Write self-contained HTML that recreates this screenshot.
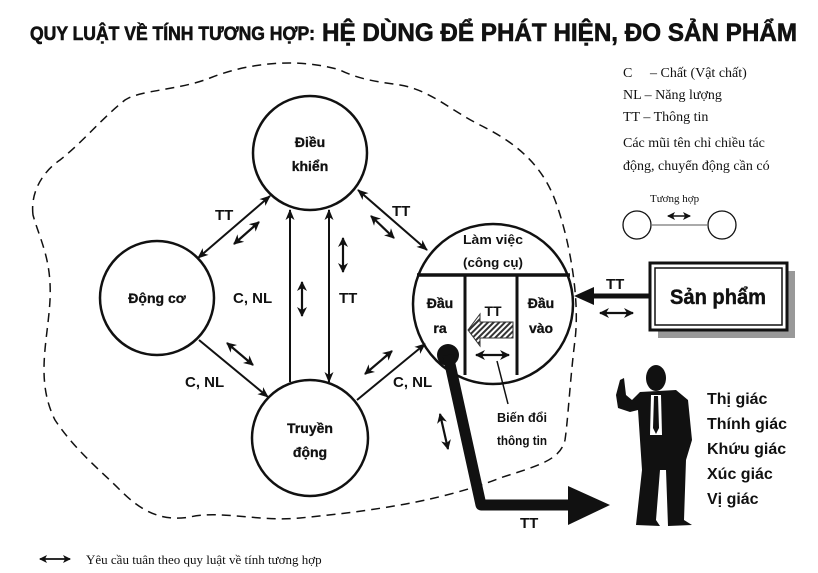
<!DOCTYPE html>
<html><head><meta charset="utf-8"><style>
html,body{margin:0;padding:0;background:#fff;}
svg{display:block;}
.b{font-family:"Liberation Sans",sans-serif;font-weight:bold;fill:#111;}
.s{font-family:"Liberation Serif",serif;fill:#111;}
</style></head><body>
<svg width="818" height="573" viewBox="0 0 818 573" xmlns="http://www.w3.org/2000/svg">
<defs>
<marker id="ah" markerWidth="11" markerHeight="11" refX="10" refY="5.5" orient="auto-start-reverse" markerUnits="userSpaceOnUse"><path d="M0,1 L11,5.5 L0,10 L3,5.5 Z" fill="#111"/></marker>
<marker id="sh" markerWidth="10" markerHeight="10" refX="9" refY="5" orient="auto-start-reverse" markerUnits="userSpaceOnUse"><path d="M0,0 L10,5 L0,10 L3,5 Z" fill="#111"/></marker>
<marker id="lh" markerWidth="8" markerHeight="8" refX="7" refY="4" orient="auto-start-reverse" markerUnits="userSpaceOnUse"><path d="M0,0 L8,4 L0,8 L2,4 Z" fill="#111"/></marker>
<pattern id="hat" width="4" height="4" patternUnits="userSpaceOnUse" patternTransform="rotate(45)"><rect width="4" height="4" fill="#fff"/><rect width="2" height="4" fill="#333"/></pattern>
</defs>

<!-- title -->
<text x="30" y="40" class="b" font-size="19" textLength="285" lengthAdjust="spacingAndGlyphs" stroke="#111" stroke-width="0.6">QUY LUẬT VỀ TÍNH TƯƠNG HỢP:</text>
<text x="322" y="41" class="b" font-size="25" textLength="475" lengthAdjust="spacingAndGlyphs" stroke="#111" stroke-width="0.6">HỆ DÙNG ĐỂ PHÁT HIỆN, ĐO SẢN PHẨM</text>

<!-- dashed blob -->
<path d="M33,215 C30,190 45,170 60,160 C85,140 100,120 125,100 C140,90 180,90 210,78 C250,62 300,58 340,70 C360,80 380,82 400,85 C430,90 450,110 480,125 C510,140 540,160 555,200 C570,240 580,300 575,340 C570,380 568,420 565,440 C560,460 540,465 500,478 C470,490 430,500 400,505 C360,512 330,515 300,518 C260,522 220,510 190,517 C160,522 140,510 120,490 C100,470 75,450 55,420 C35,380 48,340 50,300 C52,260 40,240 33,215 Z" fill="none" stroke="#111" stroke-width="1.5" stroke-dasharray="9,6"/>

<!-- circles -->
<circle cx="310" cy="153" r="57" fill="#fff" stroke="#111" stroke-width="2.5"/>
<circle cx="157" cy="298" r="57" fill="#fff" stroke="#111" stroke-width="2.5"/>
<circle cx="310" cy="438" r="58" fill="#fff" stroke="#111" stroke-width="2.5"/>
<circle cx="493" cy="304" r="80" fill="#fff" stroke="#111" stroke-width="2.5"/>
<line x1="417" y1="275" x2="570" y2="275" stroke="#111" stroke-width="3.5"/>
<line x1="465" y1="275" x2="465" y2="375" stroke="#111" stroke-width="3"/>
<line x1="517" y1="275" x2="517" y2="375" stroke="#111" stroke-width="3"/>

<text x="310" y="147" class="b" font-size="14" text-anchor="middle" stroke="#111" stroke-width="0.3">Điều</text>
<text x="310" y="171" class="b" font-size="14" text-anchor="middle" stroke="#111" stroke-width="0.3">khiển</text>
<text x="157" y="303" class="b" font-size="14" text-anchor="middle" stroke="#111" stroke-width="0.3">Động cơ</text>
<text x="310" y="433" class="b" font-size="14" text-anchor="middle" stroke="#111" stroke-width="0.3">Truyền</text>
<text x="310" y="457" class="b" font-size="14" text-anchor="middle" stroke="#111" stroke-width="0.3">động</text>
<text x="493" y="244" class="b" font-size="13" text-anchor="middle" textLength="60" lengthAdjust="spacingAndGlyphs">Làm việc</text>
<text x="493" y="267" class="b" font-size="13" text-anchor="middle" textLength="60" lengthAdjust="spacingAndGlyphs">(công cụ)</text>
<text x="440" y="308" class="b" font-size="14" text-anchor="middle" stroke="#111" stroke-width="0.3">Đầu</text>
<text x="440" y="333" class="b" font-size="14" text-anchor="middle" stroke="#111" stroke-width="0.3">ra</text>
<text x="541" y="308" class="b" font-size="14" text-anchor="middle" stroke="#111" stroke-width="0.3">Đầu</text>
<text x="541" y="333" class="b" font-size="14" text-anchor="middle" stroke="#111" stroke-width="0.3">vào</text>
<text x="493" y="316" class="b" font-size="14" text-anchor="middle">TT</text>
<path d="M513,322 L480,322 L480,314 L468,330 L480,346 L480,338 L513,338 Z" fill="url(#hat)" stroke="#333" stroke-width="1"/>
<line x1="476" y1="355" x2="509" y2="355" stroke="#111" stroke-width="2.2" marker-start="url(#sh)" marker-end="url(#sh)"/>
<line x1="497" y1="361" x2="508" y2="404" stroke="#111" stroke-width="1.5"/>
<text x="497" y="422" class="b" font-size="13" textLength="50" lengthAdjust="spacingAndGlyphs">Biến đổi</text>
<text x="497" y="445" class="b" font-size="13" textLength="50" lengthAdjust="spacingAndGlyphs">thông tin</text>

<!-- connectors -->
<line x1="270" y1="196" x2="198" y2="258" stroke="#111" stroke-width="2" marker-start="url(#ah)" marker-end="url(#ah)"/>
<line x1="199" y1="340" x2="268" y2="397" stroke="#111" stroke-width="2" marker-end="url(#ah)"/>
<line x1="357" y1="400" x2="425" y2="344" stroke="#111" stroke-width="2" marker-end="url(#ah)"/>
<line x1="358" y1="190" x2="427" y2="250" stroke="#111" stroke-width="2" marker-start="url(#ah)" marker-end="url(#ah)"/>
<line x1="290" y1="382" x2="290" y2="210" stroke="#111" stroke-width="2" marker-end="url(#ah)"/>
<line x1="329" y1="210" x2="329" y2="382" stroke="#111" stroke-width="2" marker-start="url(#ah)" marker-end="url(#ah)"/>

<!-- small double arrows -->
<line x1="234" y1="244" x2="259" y2="222" stroke="#111" stroke-width="2.2" marker-start="url(#sh)" marker-end="url(#sh)"/>
<line x1="302" y1="282" x2="302" y2="316" stroke="#111" stroke-width="2.2" marker-start="url(#sh)" marker-end="url(#sh)"/>
<line x1="343" y1="238" x2="343" y2="272" stroke="#111" stroke-width="2.2" marker-start="url(#sh)" marker-end="url(#sh)"/>
<line x1="371" y1="216" x2="394" y2="238" stroke="#111" stroke-width="2.2" marker-start="url(#sh)" marker-end="url(#sh)"/>
<line x1="227" y1="343" x2="253" y2="365" stroke="#111" stroke-width="2.2" marker-start="url(#sh)" marker-end="url(#sh)"/>
<line x1="365" y1="374" x2="392" y2="351" stroke="#111" stroke-width="2.2" marker-start="url(#sh)" marker-end="url(#sh)"/>
<line x1="440" y1="414" x2="448" y2="449" stroke="#111" stroke-width="2.2" marker-start="url(#sh)" marker-end="url(#sh)"/>
<line x1="600" y1="313" x2="633" y2="313" stroke="#111" stroke-width="2.2" marker-start="url(#sh)" marker-end="url(#sh)"/>

<!-- labels -->
<text x="215" y="220" class="b" font-size="15">TT</text>
<text x="392" y="216" class="b" font-size="15">TT</text>
<text x="233" y="303" class="b" font-size="15">C, NL</text>
<text x="339" y="303" class="b" font-size="15">TT</text>
<text x="185" y="387" class="b" font-size="15">C, NL</text>
<text x="393" y="387" class="b" font-size="15">C, NL</text>
<text x="606" y="289" class="b" font-size="15">TT</text>
<text x="520" y="528" class="b" font-size="15">TT</text>

<!-- input arrow -->
<line x1="650" y1="296" x2="590" y2="296" stroke="#111" stroke-width="5"/>
<path d="M574,296 L594,287 L594,305 Z" fill="#111"/>

<!-- Sản phẩm box -->
<rect x="658" y="271" width="137" height="67" fill="#999"/>
<rect x="650" y="263" width="137" height="67" fill="#fff" stroke="#111" stroke-width="3"/>
<rect x="655" y="268" width="127" height="57" fill="none" stroke="#111" stroke-width="1.5"/>
<text x="718" y="304" class="b" font-size="21" text-anchor="middle" textLength="96" lengthAdjust="spacingAndGlyphs" stroke="#111" stroke-width="0.4">Sản phẩm</text>

<!-- thick output -->
<circle cx="448" cy="355" r="11" fill="#111"/>
<polyline points="448,355 481,505 572,505" fill="none" stroke="#111" stroke-width="11" stroke-linejoin="round"/>
<path d="M568,486 L610,505 L568,525 Z" fill="#111"/>

<!-- person -->
<g fill="#111">
<ellipse cx="656" cy="378" rx="10" ry="13"/>
<path d="M640,392 L676,390 L688,400 L692,440 L686,460 L684,520 L692,525 L668,526 L666,470 L660,470 L656,520 L660,526 L636,525 L642,470 L640,440 L638,410 L630,412 L618,408 L616,395 L620,380 L624,378 L626,395 L632,400 Z"/>
</g>
<path d="M651,395 L661,395 L662,435 L650,435 Z" fill="#fff"/>
<path d="M654,396 L658,396 L659,428 L656,434 L653,428 Z" fill="#111"/>

<text x="707" y="404" class="b" font-size="16">Thị giác</text>
<text x="707" y="429" class="b" font-size="16">Thính giác</text>
<text x="707" y="454" class="b" font-size="16">Khứu giác</text>
<text x="707" y="479" class="b" font-size="16">Xúc giác</text>
<text x="707" y="504" class="b" font-size="16">Vị giác</text>

<!-- legend -->
<text x="623" y="77" class="s" font-size="14">C</text>
<text x="650" y="77" class="s" font-size="14">–  Chất (Vật chất)</text>
<text x="623" y="99" class="s" font-size="14">NL –  Năng lượng</text>
<text x="623" y="121" class="s" font-size="14">TT  –  Thông tin</text>
<text x="623" y="147" class="s" font-size="14">Các mũi tên chỉ chiều tác</text>
<text x="623" y="170" class="s" font-size="14">động, chuyển động cần có</text>
<text x="650" y="202" class="s" font-size="11">Tương hợp</text>
<circle cx="637" cy="225" r="14" fill="none" stroke="#111" stroke-width="1.3"/>
<circle cx="722" cy="225" r="14" fill="none" stroke="#111" stroke-width="1.3"/>
<line x1="651" y1="225" x2="708" y2="225" stroke="#777" stroke-width="1.2"/>
<line x1="668" y1="216" x2="690" y2="216" stroke="#111" stroke-width="1.5" marker-start="url(#lh)" marker-end="url(#lh)"/>

<!-- footer -->
<line x1="40" y1="559" x2="70" y2="559" stroke="#111" stroke-width="1.8" marker-start="url(#lh)" marker-end="url(#lh)"/>
<text x="86" y="564" class="s" font-size="13">Yêu cầu tuân theo quy luật về tính tương hợp</text>
</svg>
</body></html>
